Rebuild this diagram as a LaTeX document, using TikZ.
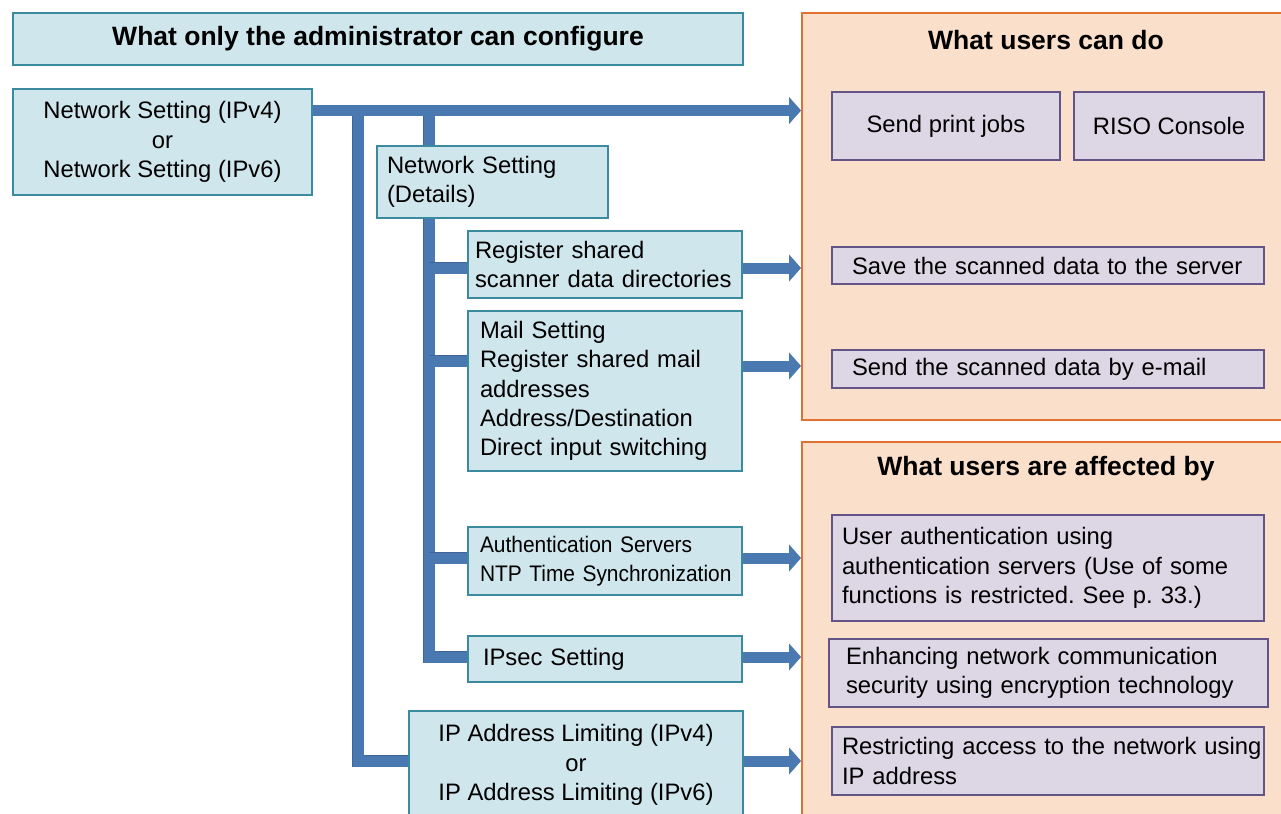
\documentclass[tikz,border=0pt]{standalone}
\usepackage{fontspec}
\setmainfont{Liberation Sans}
\newfontfamily\narrowfam[FakeStretch=0.93]{Liberation Sans}
\usetikzlibrary{arrows.meta}
\definecolor{admfill}{HTML}{D0E6ED}
\definecolor{admline}{HTML}{3B8AA0}
\definecolor{usrfill}{HTML}{FADFCB}
\definecolor{usrline}{HTML}{E2702E}
\definecolor{itmfill}{HTML}{DCD6E5}
\definecolor{itmline}{HTML}{635387}
\definecolor{conncol}{HTML}{4A79B2}
\definecolor{conndark}{HTML}{3E6698}
\newcommand\bodyfnt{\fontsize{11.9}{14.6}\selectfont}
\newcommand\smallfnt{\narrowfam\fontsize{11.25}{14.2}\selectfont}
\newcommand\titlefnt{\fontsize{13.25}{16}\selectfont\bfseries}
\newcommand\mln[1]{\mbox{#1}}
\begin{document}
\frenchspacing
\begin{tikzpicture}[x=0.5pt,y=-0.5pt,
  bx/.style={rectangle, line width=1pt, anchor=north west, inner ysep=0pt, font=\bodyfnt},
  adm/.style={bx, fill=admfill, draw=admline},
  itm/.style={bx, fill=itmfill, draw=itmline},
  panel/.style={rectangle, draw=usrline, fill=usrfill, line width=1.1pt, anchor=north west, inner sep=0pt},
  ttl/.style={font=\titlefnt, inner sep=0pt},
  conn/.style={draw=conncol, line width=5.5pt, preaction={draw=conndark, line width=6.3pt}},
  arrw/.style={draw=conncol, line width=5.5pt, -{Triangle[width=13.5pt,length=6pt,line width=0.1pt]}}]
\useasboundingbox (0,0) rectangle (1281,814);
\clip (0,0) rectangle (1281,814);
\fill[white] (0,0) rectangle (1281,814);

% panels
\node[panel, minimum width=250pt, minimum height=203.5pt] (p1) at (801,12) {};
\node[panel, minimum width=250pt, minimum height=200pt] (p2) at (801,441) {};
\node[ttl] (t1) at (1046,40) {What users can do};
\node[ttl] (t2) at (1046,469) {What users are affected by};

% y levels
\coordinate (yM) at (0,110.5);
\coordinate (yR) at (0,268);
\coordinate (yMl) at (0,361);
\coordinate (yMr) at (0,366);
\coordinate (yA) at (0,558);
\coordinate (yI) at (0,657);
\coordinate (yL) at (0,761);
\coordinate (b1) at (358,110.5);
\coordinate (b2) at (429,110.5);

% admin boxes
\node[adm, font=\titlefnt, minimum width=365pt, minimum height=26pt] (adm) at (12,12) {What only the administrator can configure};
\node[adm, align=center, minimum width=149.5pt, minimum height=53pt] (ns) at (12,88) {Network Setting (IPv4)\\or\\Network Setting (IPv6)};

% connectors (behind boxes)
\draw[conn] (b1) |- (yL -| 408,0);
\draw[conn] (b2) |- (yI -| 467,0);
\draw[conn] (b2 |- yR) -- (yR -| 467,0);
\draw[conn] (b2 |- yMl) -- (yMl -| 467,0);
\draw[conn] (b2 |- yA) -- (yA -| 467,0);
\draw[arrw] (ns.east |- yM) -- (p1.west |- yM);

\node[adm, align=left, inner xsep=5pt, text width=105.5pt, minimum height=36pt] (nsd) at (376,145) {\mln{Network Setting}\\\mln{(Details)}};
\node[adm, align=left, inner xsep=3.5pt, text width=130pt, minimum height=33.5pt] (reg) at (467,230) {\mln{Register shared}\\\mln{scanner data directories}};
\node[adm, align=left, inner xsep=6pt, text width=125pt, minimum height=80pt] (mail) at (467,310) {\mln{Mail Setting}\\\mln{Register shared mail}\\\mln{addresses}\\\mln{Address/Destination}\\\mln{Direct input switching}};
\node[adm, align=left, font=\smallfnt, inner xsep=6pt, text width=125pt, minimum height=34pt] (auth) at (467,526) {\mln{Authentication Servers}\\\mln{NTP Time Synchronization}};
\node[adm, align=left, inner xsep=7.5pt, text width=122pt, minimum height=23pt] (ips) at (467,635) {\mln{IPsec Setting}};
\node[adm, align=center, minimum width=167pt, minimum height=54pt] (ipl) at (408,710) {IP Address Limiting (IPv4)\\or\\IP Address Limiting (IPv6)};

% arrows to panels
\draw[arrw] (reg.east |- yR) -- (p1.west |- yR);
\draw[arrw] (mail.east |- yMr) -- (p1.west |- yMr);
\draw[arrw] (auth.east |- yA) -- (p2.west |- yA);
\draw[arrw] (ips.east |- yI) -- (p2.west |- yI);
\draw[arrw] (ipl.east |- yL) -- (p2.west |- yL);

% user items
\node[itm, align=center, minimum width=114pt, minimum height=34pt] (spj) at (831,91) {Send print jobs};
\node[itm, align=center, minimum width=95pt, minimum height=34pt] (riso) at (1073,91) {RISO Console};
\node[itm, align=left, inner xsep=10pt, text width=196pt, minimum height=18.5pt] (save) at (831,246) {\mln{Save the scanned data to the server}};
\node[itm, align=left, inner xsep=10pt, text width=196pt, minimum height=19pt] (smail) at (831,349) {\mln{Send the scanned data by e-mail}};
\node[itm, align=left, inner xsep=5pt, text width=206pt, minimum height=53pt] (uauth) at (831,514) {\mln{User authentication using}\\\mln{authentication servers (Use of some}\\\mln{functions is restricted. See p. 33.)}};
\node[itm, align=left, inner xsep=8.5pt, text width=202.5pt, minimum height=34pt] (enh) at (828,638) {\mln{Enhancing network communication}\\\mln{security using encryption technology}};
\node[itm, align=left, inner xsep=5pt, text width=206pt, minimum height=34pt] (rest) at (831,726) {\mln{Restricting access to the network using}\\\mln{IP address}};
\end{tikzpicture}
\end{document}
